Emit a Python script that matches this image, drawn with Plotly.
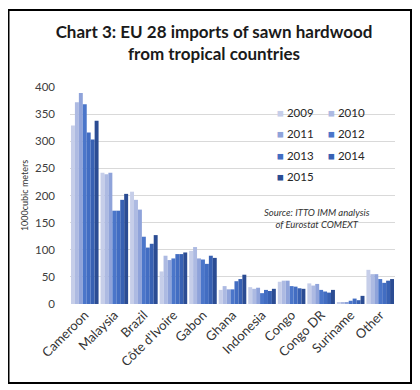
import plotly.graph_objects as go

countries = ["Cameroon", "Malaysia", "Brazil", "Côte d'Ivoire", "Gabon", "Ghana",
             "Indonesia", "Congo", "Congo DR", "Suriname", "Other"]
years = ["2009", "2010", "2011", "2012", "2013", "2014", "2015"]
v2009 = [329, 242, 207, 60, 98, 26, 31, 41, 38, 2, 63]
v2010 = [372, 239, 192, 89, 105, 33, 28, 43, 34, 2, 55]
v2011 = [389, 242, 174, 81, 84, 27, 30, 43, 37, 2, 55]
v2012 = [368, 172, 124, 84, 82, 27, 20, 33, 26, 6, 46]
v2013 = [316, 172, 104, 92, 74, 42, 26, 32, 23, 10, 39]
v2014 = [303, 192, 111, 92, 89, 46, 24, 29, 21, 7, 43]
v2015 = [338, 203, 127, 95, 85, 54, 28, 28, 26, 15, 46]
series = [v2009, v2010, v2011, v2012, v2013, v2014, v2015]
colors = ["#c6cee9", "#adbae2", "#8fa3da", "#4b76ca", "#426dc2", "#3861b3", "#2b4c93"]
y_ticks = [0, 50, 100, 150, 200, 250, 300, 350, 400]

FONT = "Lato, 'Open Sans', sans-serif"

# The page body adds an 8px margin, so the figure is drawn 8px smaller.
W, H = 412, 382
PL, PW, PT, PH = 62, 325, 79, 217   # plot area in figure pixels


def px(xr):   # reference-image x -> paper x
    return (xr - 8 - PL) / PW


def py(yr):   # reference-image y -> paper y
    return (PT + PH - (yr - 8)) / PH


fig = go.Figure()
for yr, vals, col in zip(years, series, colors):
    fig.add_trace(go.Bar(name=yr, x=countries, y=vals, marker_color=col,
                         marker_line_width=0, showlegend=False))
# legend entries: small square keys in two columns
for i, (yr, col) in enumerate(zip(years, colors)):
    fig.add_trace(go.Scatter(
        name=f"<span style='color:{col}'>■</span> {yr}", x=[None], y=[None],
        mode="markers", marker=dict(size=1, color="rgba(0,0,0,0)"),
        legendgroup=yr, legend="legend" if i % 2 == 0 else "legend2"))

leg_common = dict(bgcolor="rgba(0,0,0,0)",
                  font=dict(family=FONT, size=11.5, color="#262626"),
                  yanchor="top", xanchor="left", itemwidth=30, tracegroupgap=2.4,
                  itemclick=False, itemdoubleclick=False)

fig.update_layout(
    width=W, height=H,
    margin=dict(l=PL, r=W - PL - PW, t=PT, b=H - PT - PH, autoexpand=False),
    paper_bgcolor="white", plot_bgcolor="white",
    barmode="group", bargap=0.066, bargroupgap=0,
    title=dict(text="Chart 3: EU 28 imports of sawn hardwood<br>from tropical countries",
               x=0.5, xanchor="center", y=1 - 30 / H, yanchor="middle",
               font=dict(family=FONT, size=17, color="#1a1a1a", weight="bold")),
    legend=dict(x=px(237), y=py(98), **leg_common),
    legend2=dict(x=px(288), y=py(98), **leg_common),
    xaxis=dict(tickangle=-45, tickfont=dict(family=FONT, size=13, color="#333333"),
               showgrid=False, showline=False, ticks=""),
    yaxis=dict(range=[0, 400], tickvals=y_ticks, showgrid=True, gridcolor="#d9d9d9",
               gridwidth=1, zeroline=False, showline=False, ticks="",
               ticklabelstandoff=14,
               tickfont=dict(family=FONT, size=11.5, color="#404040"),
               title=dict(text="1000cubic meters", standoff=4,
                          font=dict(family=FONT, size=9, color="#333333"))),
    font=dict(family=FONT),
    annotations=[dict(text="Source: ITTO IMM analysis<br>of Eurostat COMEXT",
                      xref="paper", yref="paper", x=px(317), y=py(218.5),
                      xanchor="center", yanchor="middle", showarrow=False, align="center",
                      font=dict(family=FONT, size=9.5, color="#333333", style="italic"))],
    shapes=[
        # white areas hiding gridlines (as in the original)
        dict(type="rect", xref="paper", yref="y", x0=0, x1=1, y0=75, y1=275,
             fillcolor="white", line_width=0, layer="below"),
        dict(type="rect", xref="paper", yref="y", x0=0, x1=1, y0=-5, y1=25,
             fillcolor="white", line_width=0, layer="below"),
        dict(type="rect", xref="paper", yref="y", x0=px(270), x1=px(368),
             y0=280, y1=370, fillcolor="white", line_width=0, layer="below"),
        # outer frame
        dict(type="rect", xref="paper", yref="paper",
             x0=px(8.5), x1=px(411), y0=py(383), y1=py(10),
             line=dict(color="black", width=2), fillcolor="rgba(0,0,0,0)"),
    ],
)

fig.write_html("out.html")
